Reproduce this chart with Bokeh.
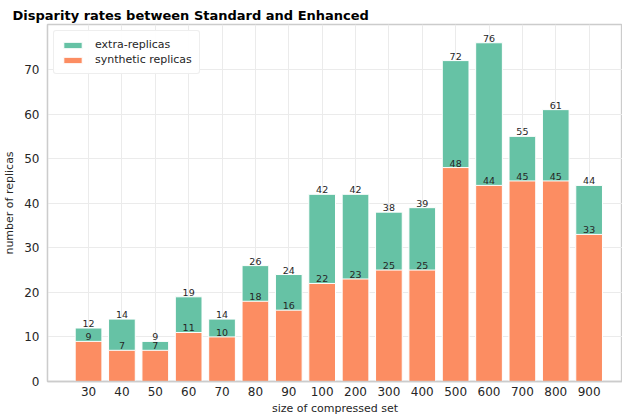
from bokeh.plotting import figure
from bokeh.models import ColumnDataSource, Range1d, FixedTicker, Legend, LegendItem
from bokeh.core.properties import value
from bokeh.embed import file_html
from bokeh.resources import INLINE

categories = ["30", "40", "50", "60", "70", "80", "90", "100", "200", "300", "400", "500", "600", "700", "800", "900"]
extra_replicas = [12, 14, 9, 19, 14, 26, 24, 42, 42, 38, 39, 72, 76, 55, 61, 44]
synthetic_replicas = [9, 7, 7, 11, 10, 18, 16, 22, 23, 25, 25, 48, 44, 45, 45, 33]
y_ticks = [0, 10, 20, 30, 40, 50, 60, 70]

GREEN = "#66c2a5"
ORANGE = "#fc8d62"
FONT = "DejaVu Sans"
TXT = "#262626"

xs = list(range(len(categories)))
src = ColumnDataSource(dict(
    x=xs,
    extra=extra_replicas,
    synth=synthetic_replicas,
    extra_lbl=[str(v) for v in extra_replicas],
    synth_lbl=[str(v) for v in synthetic_replicas],
))

p = figure(frame_width=575, frame_height=357, output_backend="svg", toolbar_location=None,
           x_range=Range1d(-1.23, 16.0), y_range=Range1d(0, 80.1),
           min_border_left=45, min_border_right=0, min_border_top=24, min_border_bottom=35)

p.title.text = "Disparity rates between Standard and Enhanced"
p.title.text_font = FONT
p.title.text_font_size = "13px"
p.title.text_font_style = "bold"
p.title.text_color = "black"
p.title.align = "left"
p.title.offset = -35
p.title.standoff = 3

r_extra = p.vbar(x="x", top="extra", width=0.8, source=src, fill_color=GREEN,
                 line_color="white", line_width=1)
r_synth = p.vbar(x="x", top="synth", width=0.8, source=src, fill_color=ORANGE,
                 line_color="white", line_width=1)

p.text(x="x", y="extra", text="extra_lbl", source=src, text_align="center",
       text_baseline="bottom", y_offset=-1, text_font=value(FONT),
       text_font_size="9.5px", text_color=TXT)
p.text(x="x", y="synth", text="synth_lbl", source=src, text_align="center",
       text_baseline="bottom", y_offset=-1, text_font=value(FONT),
       text_font_size="9.5px", text_color=TXT)

# axes
p.xaxis.ticker = FixedTicker(ticks=xs)
p.xaxis.major_label_overrides = {i: c for i, c in enumerate(categories)}
p.yaxis.ticker = FixedTicker(ticks=y_ticks)
for ax in (p.xaxis[0], p.yaxis[0]):
    ax.major_tick_line_color = None
    ax.minor_tick_line_color = None
    ax.major_tick_out = 0
    ax.major_tick_in = 0
    ax.minor_tick_out = 0
    ax.minor_tick_in = 0
    ax.axis_line_color = "#cccccc"
    ax.axis_line_width = 1.3
    ax.major_label_text_font = FONT
    ax.major_label_text_font_size = "12px"
    ax.major_label_text_color = TXT
    ax.axis_label_text_font = FONT
    ax.axis_label_text_font_size = "11px"
    ax.axis_label_text_font_style = "normal"
    ax.axis_label_text_color = TXT
p.xaxis.axis_label = "size of compressed set"
p.yaxis.axis_label = "number of replicas"
p.xaxis.major_label_standoff = 5
p.yaxis.major_label_standoff = 8
p.xaxis.axis_label_standoff = 3
p.yaxis.axis_label_standoff = 5

p.xgrid.ticker = FixedTicker(ticks=xs)
p.grid.grid_line_color = "#ebebeb"
p.grid.grid_line_width = 1

p.outline_line_color = "#cccccc"
p.outline_line_width = 1.3
p.background_fill_color = "white"
p.border_fill_color = "white"

legend = Legend(items=[
    LegendItem(label="extra-replicas", renderers=[r_extra]),
    LegendItem(label="synthetic replicas", renderers=[r_synth]),
], location="top_left")
legend.label_text_font = FONT
legend.label_text_font_size = "11px"
legend.label_text_color = TXT
legend.glyph_width = 23
legend.glyph_height = 8
legend.spacing = 2
legend.padding = 7
legend.margin = 6
legend.border_line_color = "#dddddd"
legend.border_line_width = 1
legend.border_radius = 3
legend.label_standoff = 11
p.add_layout(legend)

open("out.html", "w").write(file_html(p, INLINE))
